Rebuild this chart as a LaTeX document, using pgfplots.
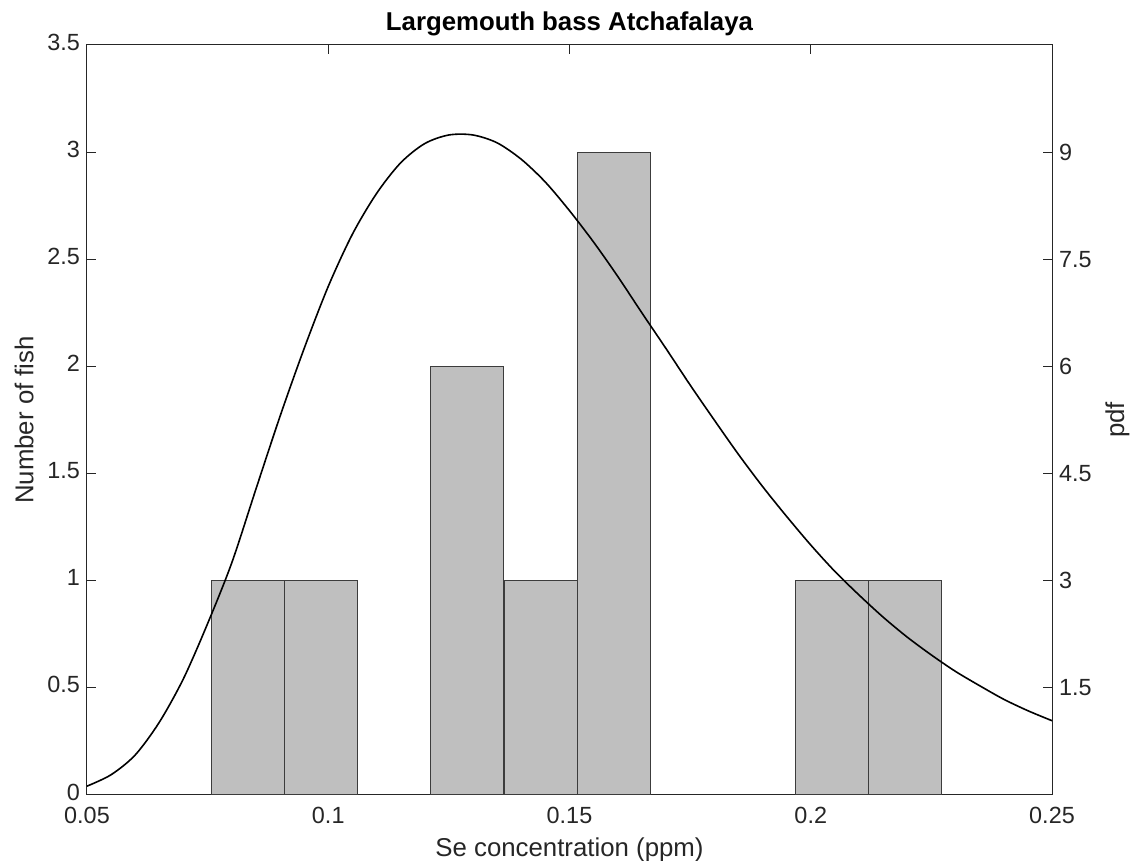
\documentclass[border=0pt]{standalone}
\usepackage{pgfplots}
\pgfplotsset{compat=1.18}
\usepackage{fontspec}
\setmainfont{Liberation Sans}
\definecolor{axgray}{RGB}{38,38,38}
\definecolor{barface}{RGB}{191,191,191}
\definecolor{baredge}{RGB}{60,60,60}
\begin{document}
\begin{tikzpicture}
\pgfplotsset{every axis/.append style={
  scale only axis, width=482.5pt, height=375pt,
  xmin=0.05, xmax=0.25,
  tick align=inside, major tick length=4.5pt,
  /pgf/number format/assume math mode=true,
  tick label style={font=\fontsize{11.7}{14}\selectfont, color=axgray},
  label style={font=\fontsize{12.9}{15}\selectfont, color=axgray},
  axis line style={color=axgray, line width=0.5pt},
  every tick/.style={color=axgray, line width=0.5pt},
}}
\begin{axis}[name=ax1,
  ymin=0, ymax=3.5,
  xtick={0.05,0.1,0.15,0.2,0.25},
  xticklabels={0.05,0.1,0.15,0.2,0.25},
  ytick={0,0.5,1,1.5,2,2.5,3,3.5},
  yticklabels={0,0.5,1,1.5,2,2.5,3,3.5},
  xtick pos=both, ytick pos=left,
  xticklabel style={yshift=-2.5pt},
  yticklabel style={yshift=1.5pt},
  xlabel={Se concentration (ppm)},
  ylabel={Number of fish},
  title={Largemouth bass Atchafalaya},
  title style={font=\fontsize{12.9}{15}\selectfont\bfseries, color=black, yshift=-5pt},
]
\addplot[ybar, bar width=0.01513, bar shift=0pt, fill=barface, draw=baredge, line width=0.5pt]
coordinates {(0.08345,1) (0.09860,1) (0.12885,2) (0.14400,1) (0.15915,3) (0.20445,1) (0.21960,1)};
\end{axis}
\begin{axis}[
  axis y line*=right, axis x line=none,
  ymin=0, ymax=10.5,
  ytick={1.5,3,4.5,6,7.5,9},
  yticklabels={1.5,3,4.5,6,7.5,9},
  ylabel={pdf},
]
\addplot[black, line width=0.8pt, smooth] coordinates {
(0.050,0.124) (0.055,0.284) (0.060,0.561) (0.065,1.02) (0.070,1.63)
(0.075,2.40) (0.080,3.25) (0.085,4.28) (0.090,5.30) (0.095,6.25)
(0.100,7.12) (0.105,7.85) (0.110,8.42) (0.115,8.85) (0.120,9.12)
(0.125,9.24) (0.130,9.24) (0.135,9.13) (0.140,8.90) (0.145,8.58)
(0.150,8.18) (0.155,7.74) (0.160,7.26) (0.165,6.75) (0.170,6.25)
(0.175,5.74) (0.180,5.25) (0.185,4.77) (0.190,4.32) (0.195,3.90)
(0.200,3.50) (0.205,3.13) (0.210,2.80) (0.215,2.49) (0.220,2.21)
(0.225,1.96) (0.230,1.73) (0.235,1.53) (0.240,1.34) (0.245,1.18)
(0.250,1.04)};
\end{axis}
\pgfresetboundingbox
\path ([xshift=-43.5pt,yshift=-33pt]ax1.south west) rectangle ([xshift=46.5pt,yshift=22.5pt]ax1.north east);
\end{tikzpicture}
\end{document}
